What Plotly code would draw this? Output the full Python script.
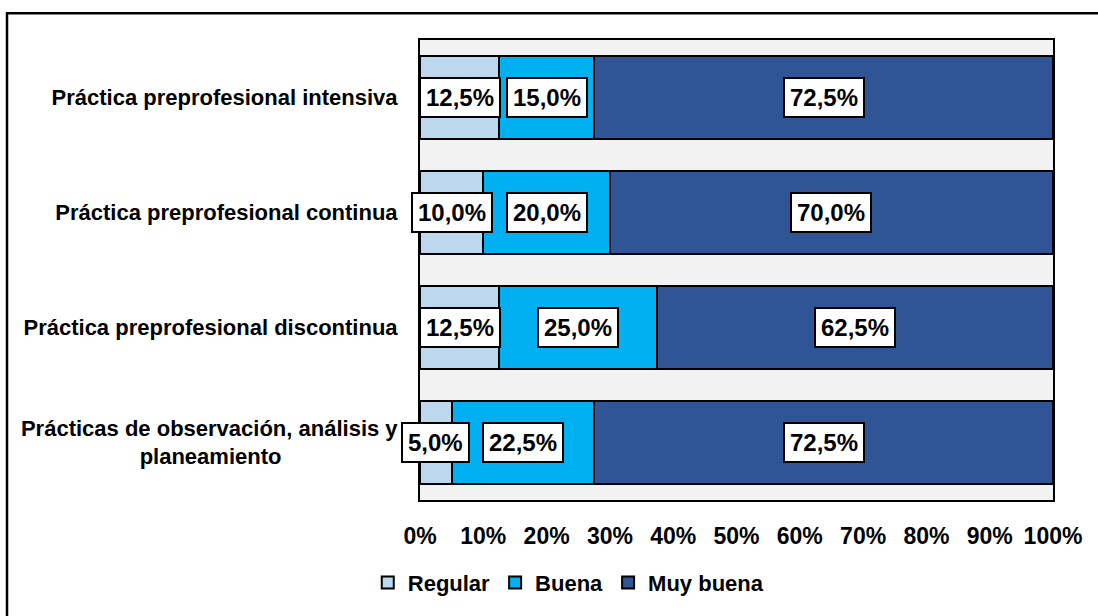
import plotly.graph_objects as go

# ---- data (top-to-bottom order as shown) ----
categories = [
    "Práctica preprofesional intensiva",
    "Práctica preprofesional continua",
    "Práctica preprofesional discontinua",
    "Prácticas de observación, análisis y<br>planeamiento" + "&nbsp;" * 19,
]
series_names = ["Regular", "Buena", "Muy buena"]
regular = [12.5, 10.0, 12.5, 5.0]
buena = [15.0, 20.0, 25.0, 22.5]
muy_buena = [72.5, 70.0, 62.5, 72.5]
x_ticks = [0, 10, 20, 30, 40, 50, 60, 70, 80, 90, 100]

colors = ["#bdd7ee", "#00b0f0", "#2f5597"]
FONT = "Liberation Sans, Arial, sans-serif"

fig = go.Figure()
series = [regular, buena, muy_buena]
for name, vals, col in zip(series_names, series, colors):
    fig.add_trace(go.Bar(
        y=categories, x=vals, name=name, orientation="h",
        marker=dict(color=col, line=dict(color="#000000", width=2)),
        hoverinfo="skip",
    ))

# data label boxes
annotations = []
for i, cat in enumerate(categories):
    base = 0.0
    for vals in series:
        v = vals[i]
        annotations.append(dict(
            x=base + v / 2, y=cat, xref="x", yref="y",
            text=f"{v:.1f}".replace(".", ",") + "%",
            showarrow=False,
            font=dict(family=FONT, size=24, color="#000000", weight="bold"),
            bgcolor="#ffffff", bordercolor="#000000", borderwidth=2, borderpad=5,
        ))
        base += v

fig.update_layout(
    width=1098, height=616, autosize=False,
    margin=dict(l=420, r=45, t=40, b=112),
    paper_bgcolor="#ffffff", plot_bgcolor="#f2f2f2",
    barmode="stack", bargap=0.27,
    font=dict(family=FONT, color="#000000"),
    showlegend=True,
    legend=dict(
        orientation="h", x=0.235, xanchor="center", y=-0.18, yanchor="middle",
        font=dict(family=FONT, size=22, color="#000000", weight="bold"),
        traceorder="normal",
    ),
    annotations=annotations,
    shapes=[dict(
        type="rect", xref="paper", yref="paper",
        x0=(7 - 420) / 633, x1=1.3, y0=-0.6, y1=1 + (40 - 13) / 464,
        line=dict(color="#000000", width=2.5), fillcolor="rgba(0,0,0,0)",
        layer="above",
    )],
)
fig.update_xaxes(
    range=[0, 100], tickvals=x_ticks, ticktext=[f"{t}%" for t in x_ticks],
    showgrid=False, zeroline=False,
    showline=True, mirror=True, linecolor="#000000", linewidth=2,
    tickfont=dict(family=FONT, size=23, color="#000000", weight="bold"),
    ticks="", ticklabelstandoff=14, fixedrange=True,
)
fig.update_yaxes(
    autorange="reversed", showgrid=False, zeroline=False,
    showline=True, mirror=True, linecolor="#000000", linewidth=2,
    tickfont=dict(family=FONT, size=22, color="#000000", weight="bold"),
    ticks="", ticklabelstandoff=16, fixedrange=True,
)

fig.write_html("out.html", config={"displayModeBar": False},
               post_script="document.body.style.margin='0';")
